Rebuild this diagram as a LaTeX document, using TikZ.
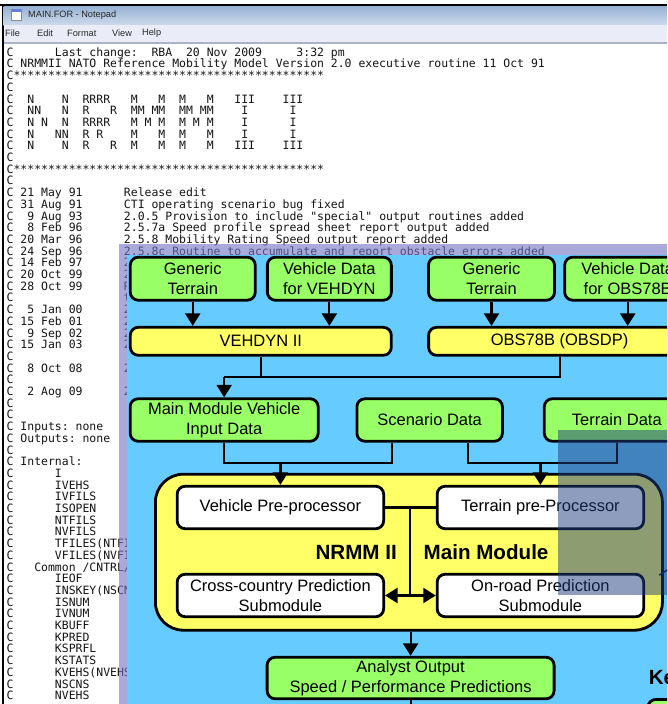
\documentclass[tikz,border=0pt]{standalone}
\usepackage{fontspec}
\setmainfont{Liberation Sans}
\newfontfamily\monof{DejaVu Sans Mono}
\usetikzlibrary{arrows.meta}
\definecolor{boxgreen}{RGB}{153,255,102}
\definecolor{boxyellow}{RGB}{255,255,102}
\definecolor{skyblue}{RGB}{102,204,255}
\definecolor{selpurple}{RGB}{115,115,197}
\definecolor{shadeblue}{RGB}{30,60,125}
\definecolor{titletop}{RGB}{150,178,212}
\definecolor{titlebot}{RGB}{205,218,236}
\definecolor{menubg}{RGB}{234,237,248}
\definecolor{menuline}{RGB}{170,180,196}
\definecolor{marknavy}{RGB}{20,40,110}
\newcommand\TxtLine[2]{\node[mono] (tl#1) at (6.5,{56.2+(#1-1)*11.7}) {#2};}
\newcommand\boxfont{\fontsize{16.5}{19.5}\selectfont}
\begin{document}
\begin{tikzpicture}[x=1pt,y=-1pt,
  mono/.style={font=\monof\fontsize{11.46}{11.7}\selectfont, anchor=base west, inner sep=0pt, text=black!92},
  chrome/.style={font=\fontsize{9.2}{11}\selectfont, anchor=west, inner sep=0pt, text=black!85},
  gbox/.style={draw=black, line width=2.8pt, fill=boxgreen, rounded corners=8pt, align=center, inner sep=0pt, font=\boxfont},
  ybox/.style={gbox, fill=boxyellow},
  wbox/.style={gbox, fill=white},
  conn/.style={draw=black, line width=2.2pt},
  arr/.style={conn, -{Triangle[width=15pt,length=12.5pt]}},
  bigt/.style={font=\fontsize{20.6}{24}\selectfont\bfseries, inner sep=0pt}]
\useasboundingbox (0,0) rectangle (667,704);
\clip (0,0) rectangle (667,704);
\fill[white] (0,0) rectangle (667,704);
% window chrome
\fill[black] (0,3.5) rectangle (667,6);
\fill[black] (1.5,3.5) rectangle (3.6,704);
\shade[top color=titletop, bottom color=titlebot] (3.6,6) rectangle (667,25);
\fill[menubg] (3.6,25) rectangle (667,42);
\fill[menuline] (3.6,42) rectangle (667,43.5);
\filldraw[fill=white, draw=black!45, line width=0.6pt] (11,9) rectangle (21,20);
\fill[titletop!70!blue] (11.3,9.3) rectangle (20.7,11.5);
\node[chrome] (title) at (28,15) {MAIN.FOR - Notepad};
\node[chrome] (m1) at (5,33.5) {File};
\node[chrome] (m2) at (37,33.5) {Edit};
\node[chrome] (m3) at (67,33.5) {Format};
\node[chrome] (m4) at (112,33.5) {View};
\node[chrome] (m5) at (142,33.5) {Help};
% listing
\TxtLine{1}{C~~~~~~Last~change:~~RBA~~20~Nov~2009~~~~~3:32~pm}
\TxtLine{2}{C~NRMMII~NATO~Reference~Mobility~Model~Version~2.0~executive~routine~11~Oct~91}
\TxtLine{3}{C*********************************************}
\TxtLine{4}{C}
\TxtLine{5}{C~~N~~~~N~~RRRR~~~M~~~M~~M~~~M~~~III~~~~III}
\TxtLine{6}{C~~NN~~~N~~R~~~R~~MM~MM~~MM~MM~~~~I~~~~~~I}
\TxtLine{7}{C~~N~N~~N~~RRRR~~~M~M~M~~M~M~M~~~~I~~~~~~I}
\TxtLine{8}{C~~N~~~NN~~R~R~~~~M~~~M~~M~~~M~~~~I~~~~~~I}
\TxtLine{9}{C~~N~~~~N~~R~~~R~~M~~~M~~M~~~M~~~III~~~~III}
\TxtLine{10}{C}
\TxtLine{11}{C*********************************************}
\TxtLine{12}{C}
\TxtLine{13}{C~21~May~91~~~~~~Release~edit}
\TxtLine{14}{C~31~Aug~91~~~~~~CTI~operating~scenario~bug~fixed}
\TxtLine{15}{C~~9~Aug~93~~~~~~2.0.5~Provision~to~include~"special"~output~routines~added}
\TxtLine{16}{C~~8~Feb~96~~~~~~2.5.7a~Speed~profile~spread~sheet~report~output~added}
\TxtLine{17}{C~20~Mar~96~~~~~~2.5.8~Mobility~Rating~Speed~output~report~added}
\TxtLine{18}{C~24~Sep~96~~~~~~2.5.8c~Routine~to~accumulate~and~report~obstacle~errors~added}
\TxtLine{19}{C~14~Feb~97~~~~~~2}
\TxtLine{20}{C~20~Oct~99~~~~~~2}
\TxtLine{21}{C~28~Oct~99~~~~~~R}
\TxtLine{22}{C~~~~~~~~~~~~~~~~t}
\TxtLine{23}{C~~5~Jan~00~~~~~~2}
\TxtLine{24}{C~15~Feb~01~~~~~~2}
\TxtLine{25}{C~~9~Sep~02~~~~~~2}
\TxtLine{26}{C~15~Jan~03~~~~~~2}
\TxtLine{27}{C}
\TxtLine{28}{C~~8~Oct~08~~~~~~2}
\TxtLine{29}{C}
\TxtLine{30}{C~~2~Aog~09~~~~~~2}
\TxtLine{31}{C}
\TxtLine{32}{C}
\TxtLine{33}{C~Inputs:~none}
\TxtLine{34}{C~Outputs:~none}
\TxtLine{35}{C}
\TxtLine{36}{C~Internal:}
\TxtLine{37}{C~~~~~~I}
\TxtLine{38}{C~~~~~~IVEHS}
\TxtLine{39}{C~~~~~~IVFILS}
\TxtLine{40}{C~~~~~~ISOPEN}
\TxtLine{41}{C~~~~~~NTFILS}
\TxtLine{42}{C~~~~~~NVFILS}
\TxtLine{43}{C~~~~~~TFILES(NTFI}
\TxtLine{44}{C~~~~~~VFILES(NVFI}
\TxtLine{45}{C~~~Common~/CNTRL/}
\TxtLine{46}{C~~~~~~IEOF}
\TxtLine{47}{C~~~~~~INSKEY(NSCN}
\TxtLine{48}{C~~~~~~ISNUM}
\TxtLine{49}{C~~~~~~IVNUM}
\TxtLine{50}{C~~~~~~KBUFF}
\TxtLine{51}{C~~~~~~KPRED}
\TxtLine{52}{C~~~~~~KSPRFL}
\TxtLine{53}{C~~~~~~KSTATS}
\TxtLine{54}{C~~~~~~KVEHS(NVEHS}
\TxtLine{55}{C~~~~~~NSCNS}
\TxtLine{56}{C~~~~~~NVEHS}
% selection highlight and pasted diagram background
\fill[selpurple, opacity=0.61] (119,244) rectangle (668,705);
\fill[skyblue] (127,255) rectangle (668,705);
% diagram nodes
\node[gbox, minimum width=125, minimum height=43] (gt1) at (192.75,278.7) {Generic\\Terrain};
\node[gbox, minimum width=124, minimum height=43] (vd1) at (329.35,278.7) {Vehicle Data\\for VEHDYN};
\node[gbox, minimum width=126, minimum height=43] (gt2) at (491.5,278.7) {Generic\\Terrain};
\node[gbox, minimum width=126, minimum height=43] (vd2) at (627.7,278.7) {Vehicle Data\\for OBS78B};
\node[ybox, minimum width=261, minimum height=28] (vehdyn) at (260.8,341.3) {VEHDYN II};
\node[ybox, minimum width=262, minimum height=28] (obs) at (559.6,341.3) {OBS78B (OBSDP)};
\node[gbox, minimum width=188, minimum height=42.5] (mmv) at (224.15,420) {Main Module Vehicle\\Input Data};
\node[gbox, minimum width=145.5, minimum height=42.5] (scen) at (429.65,420) {Scenario Data};
\node[gbox, minimum width=145, minimum height=42.5] (terr) at (616.8,420) {Terrain Data};
\node[ybox, rounded corners=28pt, minimum width=507, minimum height=156] (main) at (408.9,552.2) {};
\node[wbox, minimum width=206.5, minimum height=42.5] (vpp) at (280.4,507.5) {Vehicle Pre-processor};
\node[wbox, minimum width=206.5, minimum height=42.5] (tpp) at (540.4,507.5) {Terrain pre-Processor};
\node[wbox, minimum width=206.5, minimum height=42.5] (ccp) at (280.4,595.5) {Cross-country Prediction\\Submodule};
\node[wbox, minimum width=206.5, minimum height=42.5] (orp) at (540.4,595.5) {On-road Prediction\\Submodule};
\node[bigt, anchor=east] (lbl1) at (397,552.5) {NRMM II};
\node[bigt, anchor=west] (lbl2) at (423.5,552.5) {Main Module};
\node[gbox, minimum width=287, minimum height=41.5] (ana) at (410.6,678) {Analyst Output\\Speed / Performance Predictions};
\node[bigt, anchor=west] (key) at (648.6,678) {Ke};
\node[gbox, anchor=north west, minimum width=80, minimum height=50] (keybox) at (646.5,698) {};
% connector coordinates
\coordinate (hy1) at (0,376.7);
\coordinate (hy2) at (0,463);
\coordinate (cL) at (392,463);
\coordinate (cR) at (467.9,463);
\coordinate (vtop) at (410,507.5);
\coordinate (vbot) at (410,595.5);
\coordinate (bot) at (410.6,712);
% connectors
\draw[arr] (gt1.south) -- (gt1.south |- vehdyn.north);
\draw[arr] (vd1.south) -- (vd1.south |- vehdyn.north);
\draw[arr] (gt2.south) -- (gt2.south |- obs.north);
\draw[arr] (vd2.south) -- (vd2.south |- obs.north);
\draw[conn] (vehdyn.south) -- (vehdyn.south |- hy1);
\draw[conn] (mmv.north |- hy1) -- (obs.south |- hy1) -- (obs.south);
\draw[arr] (mmv.north |- hy1) -- (mmv.north);
\draw[conn] (mmv.south) |- (cL) -- (cL |- scen.south);
\draw[conn] (cR |- scen.south) -- (cR) -| (terr.south);
\draw[arr] (vpp.north |- hy2) -- (vpp.north);
\draw[arr] (tpp.north |- hy2) -- (tpp.north);
\draw[conn] (vpp.east) -- (tpp.west);
\draw[conn] (vtop) -- (vbot);
\draw[arr] (vbot) -- (ccp.east);
\draw[arr] (vbot) -- (orp.west);
\draw[arr] (ana.north |- main.south) -- (ana.north);
\draw[conn] (ana.south) -- (bot);
% dark overlay at right
\fill[shadeblue, opacity=0.5] (558,430) rectangle (668,595);
\draw[marknavy, line width=1.5pt, line cap=round] (659.5,575) -- (668,569.5);
\end{tikzpicture}
\end{document}
